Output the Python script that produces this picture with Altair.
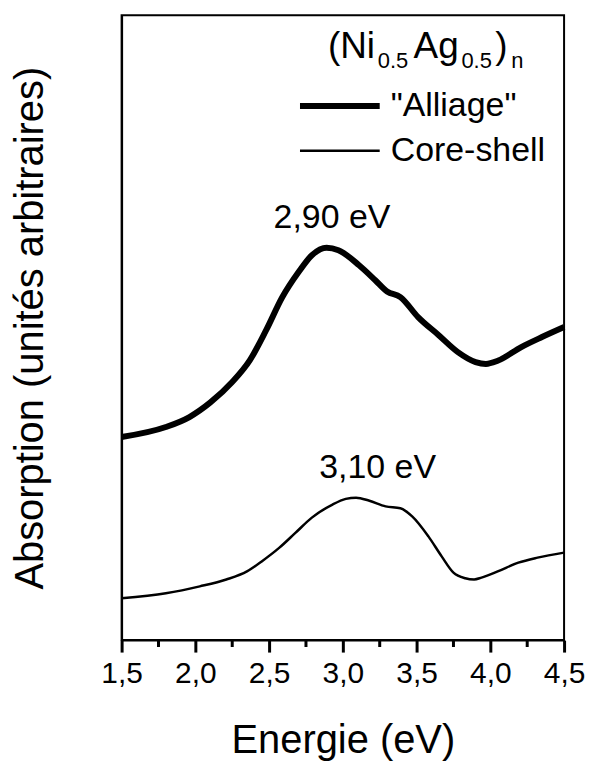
import altair as alt
import pandas as pd

# ---- data ----
energy_alliage = [1.50, 1.80, 1.96, 2.10, 2.25, 2.37, 2.48, 2.59, 2.70, 2.79, 2.89,
                  2.97, 3.11, 3.22, 3.30, 3.39, 3.51, 3.65, 3.78, 3.90, 3.97, 4.05,
                  4.21, 4.35, 4.50]
abs_alliage = [32.5, 34.1, 35.7, 38.0, 41.3, 44.8, 49.6, 54.9, 58.9, 61.6, 62.8,
               62.4, 60.0, 57.6, 55.8, 54.9, 51.7, 48.8, 46.1, 44.5, 44.2, 44.7,
               46.9, 48.5, 50.1]

energy_cs = [1.50, 1.80, 2.03, 2.21, 2.35, 2.45, 2.57, 2.68, 2.79, 2.93, 3.02,
             3.09, 3.18, 3.29, 3.39, 3.47, 3.58, 3.67, 3.75, 3.83, 3.89, 3.94,
             4.05, 4.19, 4.32, 4.50]
abs_cs = [6.7, 7.5, 8.6, 9.7, 11.0, 12.6, 14.8, 17.2, 19.6, 21.7, 22.6,
          22.8, 22.3, 21.4, 21.1, 19.8, 16.6, 13.4, 10.8, 9.9, 9.7, 10.0,
          11.0, 12.4, 13.2, 14.0]

series_names = ['"Alliage"', "Core-shell"]
peak_labels = ["2,90 eV", "3,10 eV"]
peak_x = [2.926, 3.236]
peak_y = [66.0, 26.0]
major_ticks = [1.5, 2.0, 2.5, 3.0, 3.5, 4.0, 4.5]
minor_ticks = [1.75, 2.25, 2.75, 3.25, 3.75, 4.25]
title_parts = ["(Ni", "0.5", "Ag", "0.5", ")", "n"]

FONT = "Liberation Sans"

rows = []
for e, a in zip(energy_alliage, abs_alliage):
    rows.append({"energy": e, "absorption": a, "series": series_names[0]})
for e, a in zip(energy_cs, abs_cs):
    rows.append({"energy": e, "absorption": a, "series": series_names[1]})
df = pd.DataFrame(rows)

xscale = alt.Scale(domain=[1.5, 4.5], nice=False, zero=False)
yscale = alt.Scale(domain=[0, 100], nice=False, zero=False)

lines = alt.Chart(df).mark_line(color="black", interpolate="monotone").encode(
    x=alt.X("energy:Q", scale=xscale,
            axis=alt.Axis(title="Energie (eV)", values=major_ticks,
                          labelExpr="replace(format(datum.value, '.1f'), '.', ',')",
                          tickSize=12, tickWidth=3, tickColor="black")),
    y=alt.Y("absorption:Q", scale=yscale,
            axis=alt.Axis(title="Absorption (unités arbitraires)")),
    strokeWidth=alt.StrokeWidth(
        "series:O",
        scale=alt.Scale(domain=series_names, range=[6, 2.5]),
        legend=alt.Legend(
            title=None, orient="none", legendX=176, legendY=68.5,
            symbolType="stroke", symbolSize=6400, symbolStrokeColor="black",
            labelFont=FONT, labelFontSize=34, labelColor="black", labelOffset=8,
            clipHeight=45, rowPadding=0, padding=0,
        ),
    ),
)

# minor ticks below the x axis, placed through the shared scales
minor = alt.Chart(pd.DataFrame({"e": minor_ticks})).mark_rule(
    clip=False, color="black", strokeWidth=3
).encode(
    x=alt.X("e:Q", scale=xscale),
    y=alt.Y(datum=0, scale=yscale),
    y2=alt.Y2(datum=-1.1),
)

peaks_df = pd.DataFrame({"px": peak_x, "py": peak_y, "label": peak_labels})
peaks = alt.Chart(peaks_df).mark_text(
    font=FONT, fontSize=34, align="center", baseline="alphabetic", color="black"
).encode(x=alt.X("px:Q", scale=xscale), y=alt.Y("py:Q", scale=yscale), text="label:N")

# legend title (Ni0.5Ag0.5)n, pieces with subscripts
piece_pos = [(207, 43, 37), (257, 53, 22), (293, 43, 37), (341, 53, 22), (375, 43, 37), (391, 53, 22)]
pieces = []
for txt, (px, py, fs) in zip(title_parts, piece_pos):
    pieces.append(
        alt.Chart(pd.DataFrame({"t": [txt]})).mark_text(
            font=FONT, fontSize=fs, align="left", baseline="alphabetic", color="black"
        ).encode(x=alt.value(px), y=alt.value(py), text="t:N")
    )

chart = alt.layer(lines, minor, peaks, *pieces).properties(
    width=444, height=627,
    autosize=alt.AutoSizeParams(type="none"),
    padding={"left": 114, "top": 6, "right": 22, "bottom": 121},
).configure_view(
    stroke="black", strokeWidth=2
).configure_axis(
    grid=False, domainColor="black", domainWidth=2,
    titleFont=FONT, titleFontSize=40, titleFontWeight="normal", titleColor="black",
).configure_axisX(
    tickSize=12, tickWidth=3, tickColor="black",
    labelFont=FONT, labelFontSize=30, labelColor="black", labelPadding=7,
    labelFlush=False, labelOverlap=False,
    titleBaseline="alphabetic", titleY=113,
).configure_axisY(
    ticks=False, labels=False, titlePadding=71,
)

chart.save("out.html", embed_options={"renderer": "svg", "actions": False})
